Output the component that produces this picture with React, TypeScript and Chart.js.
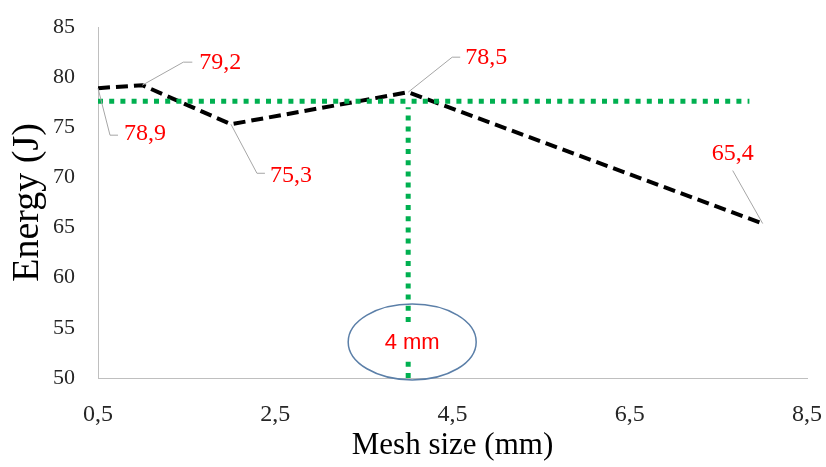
import React, { useEffect, useRef } from "react";
import { Chart, registerables } from "chart.js";

Chart.register(...registerables);

// ---- data ----
const meshSizes = [0.5, 1, 2, 4, 8];
const energyValues = [78.9, 79.2, 75.3, 78.5, 65.4];
const pointLabels = ["78,9", "79,2", "75,3", "78,5", "65,4"];
const xTickValues = [0.5, 2.5, 4.5, 6.5, 8.5];
const yMin = 50;
const yMax = 85;
const yStep = 5;
const referenceEnergy = 77.6;
const referenceStart = 0.5;
const referenceEnd = 7.85;
const optimumMesh = 4;
const optimumLabel = "4 mm";
const optimumLabelEnergy = 53.6;
const xTitle = "Mesh size (mm)";
const yTitle = "Energy (J)";

const SERIF = "'Liberation Serif', 'Times New Roman', serif";
const SANS = "'Liberation Sans', Arial, sans-serif";

// leader-line layout for each point label (pixel offsets from the point)
const leaderLayout = [
  { elbow: [12, 47], end: [20, 47], text: [26, 46], align: "left" },
  { elbow: [41, -23], end: [50, -23], text: [57, -22], align: "left" },
  { elbow: [26, 49], end: [34, 49], text: [39, 51], align: "left" },
  { elbow: [44, -35], end: [52, -35], text: [57, -34], align: "left" },
  { elbow: null, end: [-30, -53], text: [-30, -70], align: "center" },
];

const fmt = (v: number) => String(v).replace(".", ",");

const annotationPlugin = {
  id: "annotations",
  afterDatasetsDraw(chart: any) {
    const ctx = chart.ctx as CanvasRenderingContext2D;
    const xs = chart.scales.x;
    const ys = chart.scales.y;
    const meta = chart.getDatasetMeta(2);
    ctx.save();
    // leader lines + labels
    meta.data.forEach((pt: any, i: number) => {
      const L = leaderLayout[i];
      const px = pt.x;
      const py = pt.y;
      ctx.beginPath();
      ctx.strokeStyle = "#a6a6a6";
      ctx.lineWidth = 1;
      ctx.setLineDash([]);
      ctx.moveTo(px, py);
      if (L.elbow) ctx.lineTo(px + L.elbow[0], py + L.elbow[1]);
      ctx.lineTo(px + L.end[0], py + L.end[1]);
      ctx.stroke();
      ctx.fillStyle = "#ff0000";
      ctx.font = `24px ${SERIF}`;
      ctx.textAlign = L.align as CanvasTextAlign;
      ctx.textBaseline = "middle";
      ctx.fillText(pointLabels[i], px + L.text[0], py + L.text[1]);
    });
    // optimum label with ellipse
    const cx = xs.getPixelForValue(optimumMesh) + 4;
    const cy = ys.getPixelForValue(optimumLabelEnergy);
    ctx.font = `22px ${SANS}`;
    const tw = ctx.measureText(optimumLabel).width;
    ctx.fillStyle = "#ffffff";
    ctx.fillRect(cx - tw / 2 - 4, cy - 19, tw + 8, 38);
    ctx.fillStyle = "#ff0000";
    ctx.textAlign = "center";
    ctx.textBaseline = "middle";
    ctx.fillText(optimumLabel, cx, cy + 1);
    ctx.beginPath();
    ctx.strokeStyle = "#5b7fa8";
    ctx.lineWidth = 1.5;
    ctx.ellipse(cx, cy, 64, 38, 0, 0, Math.PI * 2);
    ctx.stroke();
    ctx.restore();
  },
};

export default function App() {
  const ref = useRef<HTMLCanvasElement>(null);
  useEffect(() => {
    document.body.style.margin = "0";
    const mainData = meshSizes.map((x, i) => ({ x, y: energyValues[i] }));
    const chart = new Chart(ref.current as HTMLCanvasElement, {
      type: "line",
      data: {
        datasets: [
          {
            data: [
              { x: referenceStart, y: referenceEnergy },
              { x: referenceEnd, y: referenceEnergy },
            ],
            borderColor: "#00b050",
            borderWidth: 5,
            borderDash: [5, 6.2],
            pointRadius: 0,
            fill: false,
          },
          {
            data: [
              { x: optimumMesh, y: yMin },
              { x: optimumMesh, y: referenceEnergy - 0.6 },
            ],
            borderColor: "#00b050",
            borderWidth: 5,
            borderDash: [5, 6.2],
            pointRadius: 0,
            fill: false,
          },
          {
            data: mainData,
            borderColor: "#000000",
            borderWidth: 4,
            borderDash: [12, 6],
            pointRadius: 0,
            fill: false,
            tension: 0,
          },
        ],
      },
      options: {
        animation: false,
        responsive: false,
        maintainAspectRatio: false,
        layout: { padding: { top: 27, right: 19, left: 0, bottom: 0 } },
        plugins: {
          legend: { display: false },
          tooltip: { enabled: false },
        },
        scales: {
          x: {
            type: "linear",
            min: xTickValues[0],
            max: xTickValues[xTickValues.length - 1],
            grid: { display: false },
            border: { display: true, color: "#bfbfbf", width: 1 },
            afterBuildTicks: (s: any) => {
              s.ticks = xTickValues.map((v) => ({ value: v }));
            },
            afterFit: (s: any) => {
              s.height = 89;
              s.paddingLeft = 0;
              s.paddingRight = 0;
            },
            ticks: {
              padding: 14,
              color: "#262626",
              font: { family: SERIF, size: 24 },
              maxRotation: 0,
              autoSkip: false,
              callback: (v: any) => fmt(Number(v)),
            },
            title: {
              display: true,
              text: xTitle,
              color: "#000",
              font: { family: SERIF, size: 31 },
              padding: { top: 0, bottom: 3 },
            },
          },
          y: {
            type: "linear",
            min: yMin,
            max: yMax,
            grid: { display: false },
            border: { display: true, color: "#bfbfbf", width: 1 },
            afterFit: (s: any) => {
              s.width = 98;
              s.paddingTop = 0;
              s.paddingBottom = 0;
            },
            ticks: {
              stepSize: yStep,
              padding: 15,
              color: "#262626",
              font: { family: SERIF, size: 22 },
              callback: (v: any) => fmt(Number(v)),
            },
            title: {
              display: true,
              text: yTitle,
              color: "#000",
              font: { family: SERIF, size: 38 },
              padding: { top: 5, bottom: 0 },
            },
          },
        },
      },
      plugins: [annotationPlugin],
    } as any);
    return () => chart.destroy();
  }, []);
  return (
    <div style={{ position: "absolute", left: 0, top: 0, width: 826, height: 467, background: "#fff" }}>
      <canvas ref={ref} width={826} height={467} style={{ display: "block" }} />
    </div>
  );
}
